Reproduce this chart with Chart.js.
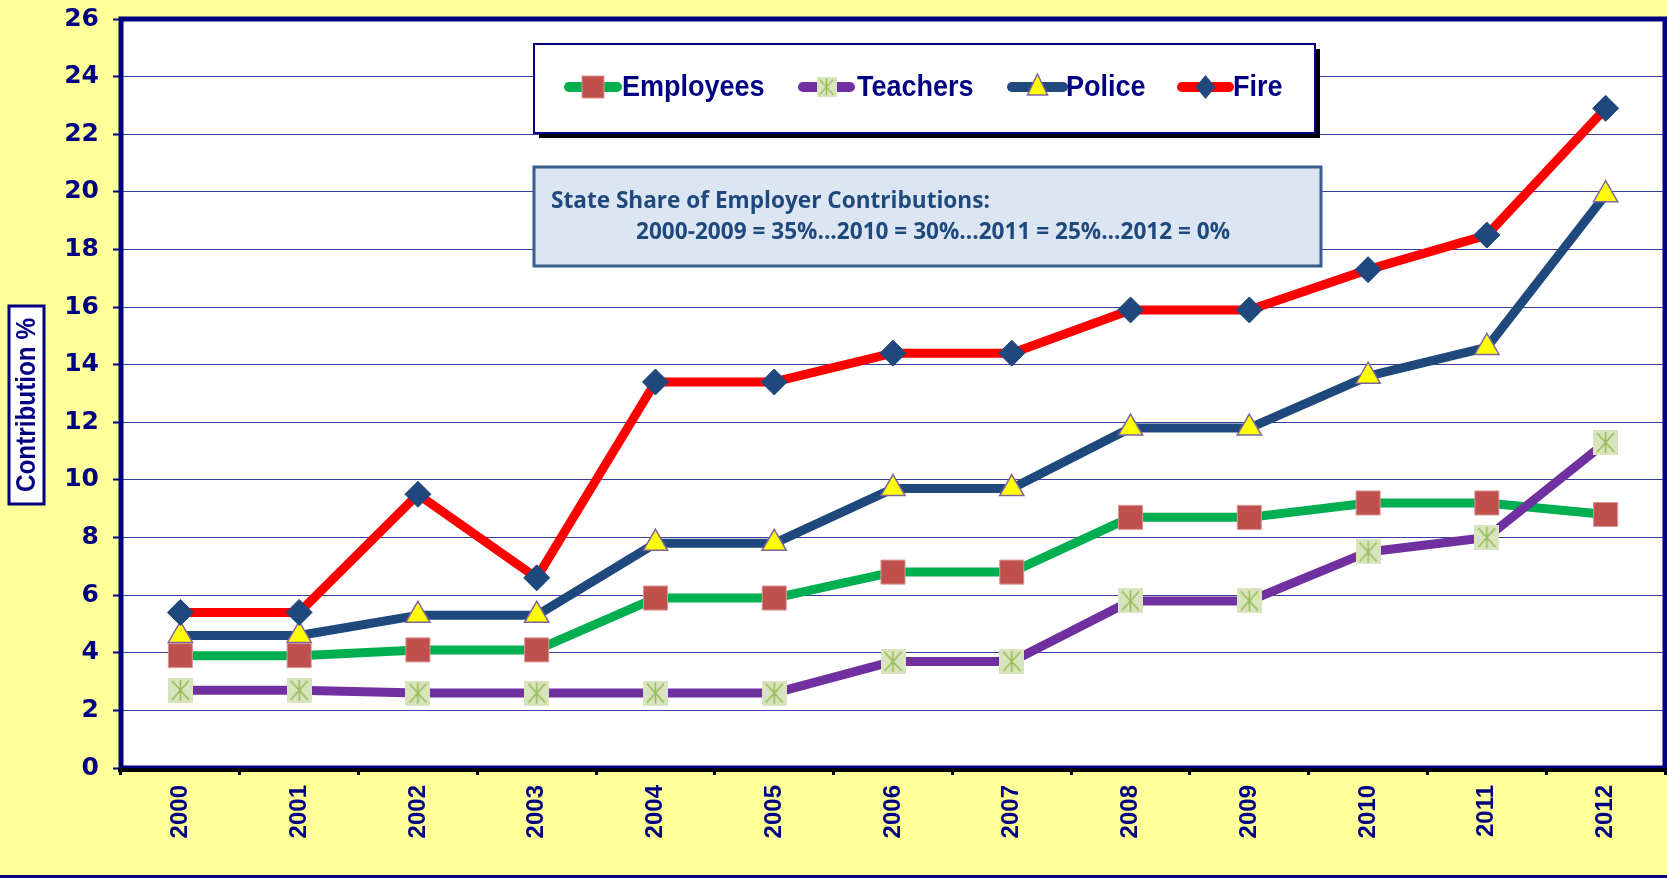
<!DOCTYPE html>
<html>
<head>
<meta charset="utf-8">
<title>Contribution %</title>
<script src="https://cdn.jsdelivr.net/npm/chart.js@4.4.0/dist/chart.umd.min.js"></script>
<style>
  html, body { margin: 0; padding: 0; background: #FFFF99; overflow: hidden; }
  #wrap { width: 1667px; height: 878px; position: relative; }
</style>
</head>
<body>
<div id="wrap"><canvas id="myChart"></canvas></div>
<script>
// values
const years = ['2000', '2001', '2002', '2003', '2004', '2005', '2006', '2007', '2008', '2009', '2010', '2011', '2012'];
const employees = [3.9, 3.9, 4.1, 4.1, 5.9, 5.9, 6.8, 6.8, 8.7, 8.7, 9.2, 9.2, 8.8];
const teachers = [2.7, 2.7, 2.6, 2.6, 2.6, 2.6, 3.7, 3.7, 5.8, 5.8, 7.5, 8.0, 11.3];
const police = [4.6, 4.6, 5.3, 5.3, 7.8, 7.8, 9.7, 9.7, 11.8, 11.8, 13.6, 14.6, 19.9];
const fire = [5.4, 5.4, 9.5, 6.6, 13.4, 13.4, 14.4, 14.4, 15.9, 15.9, 17.3, 18.5, 22.9];
const yTickLabels = [0, 2, 4, 6, 8, 10, 12, 14, 16, 18, 20, 22, 24, 26];
const seriesNames = ['Employees', 'Teachers', 'Police', 'Fire'];
const yTitle = 'Contribution %';
const noteLines = ['State Share of Employer Contributions:', '2000-2009 = 35%...2010 = 30%...2011 = 25%...2012 = 0%'];

const NAVY = '#000080';

//teachers marker: green box with an asterisk
function teacherMark() {
    const c = document.createElement('canvas');
    c.width = 25; c.height = 25;
    const g = c.getContext('2d');
    g.fillStyle = '#D7E4BD';
    g.fillRect(0, 0, 25, 25);
    g.strokeStyle = '#9BBB59';
    g.lineWidth = 1.6;
    g.beginPath();
    g.moveTo(12.5, 2); g.lineTo(12.5, 23);
    g.moveTo(4, 3); g.lineTo(21, 22);
    g.moveTo(21, 3); g.lineTo(4, 22);
    g.stroke();
    return c;
}
const tMark = teacherMark();

function drawMark(ctx, i, x, y) {
    ctx.save();
    if (i == 0) {
        ctx.fillStyle = '#C0504D';
        ctx.strokeStyle = '#D99694';
        ctx.lineWidth = 1;
        ctx.fillRect(x - 11, y - 11, 22, 22);
        ctx.strokeRect(x - 11, y - 11, 22, 22);
    } else if (i == 1) {
        ctx.drawImage(tMark, x - 10, y - 10, 20, 20);
    } else if (i == 2) {
        ctx.beginPath();
        ctx.moveTo(x, y - 13);
        ctx.lineTo(x + 10, y + 8);
        ctx.lineTo(x - 10, y + 8);
        ctx.closePath();
        ctx.fillStyle = '#FFFF00';
        ctx.fill();
        ctx.strokeStyle = '#8064A2';
        ctx.lineWidth = 1.5;
        ctx.stroke();
    } else {
        ctx.beginPath();
        ctx.moveTo(x, y - 12);
        ctx.lineTo(x + 10, y);
        ctx.lineTo(x, y + 12);
        ctx.lineTo(x - 10, y);
        ctx.closePath();
        ctx.fillStyle = '#1F497D';
        ctx.fill();
    }
    ctx.restore();
}

const decor = {
    id: 'decor',
    beforeDraw(chart) {
        const { ctx, chartArea: a } = chart;
        ctx.save();
        ctx.fillStyle = '#FFFFFF';
        ctx.fillRect(a.left, a.top, a.right - a.left, a.bottom - a.top);

        // y title box
        ctx.fillStyle = '#FFFFFF';
        ctx.fillRect(9, 306, 35, 198);
        ctx.strokeStyle = NAVY;
        ctx.lineWidth = 3;
        ctx.strokeRect(9, 306, 35, 198);
        ctx.translate(27, 405);
        ctx.rotate(-Math.PI / 2);
        ctx.scale(0.9, 1);
        ctx.fillStyle = NAVY;
        ctx.font = 'bold 27px "Liberation Sans", Arial, sans-serif';
        ctx.textAlign = 'center';
        ctx.textBaseline = 'middle';
        ctx.fillText(yTitle, 0, 1);
        ctx.restore();

        // line along the bottom of the page
        ctx.save();
        ctx.fillStyle = NAVY;
        ctx.fillRect(0, 875, chart.width, 3);
        ctx.restore();
    },
    beforeDatasetsDraw(chart) {
        const { ctx, chartArea: a } = chart;
        ctx.save();
        // plot frame
        ctx.strokeStyle = NAVY;
        ctx.lineWidth = 5;
        ctx.strokeRect(a.left, a.top, a.right - a.left, a.bottom - a.top);
        ctx.fillStyle = '#000000';
        ctx.fillRect(a.left - 3, a.bottom, a.right - a.left + 6, 4);

        // legend box
        ctx.fillStyle = '#000000';
        ctx.fillRect(539, 49, 781, 89);
        ctx.fillStyle = '#FFFFFF';
        ctx.fillRect(534, 44, 781, 89);
        ctx.strokeStyle = NAVY;
        ctx.lineWidth = 2;
        ctx.strokeRect(534, 44, 781, 89);

        const lx = [[569, 617, 622], [803, 850, 857], [1012, 1063, 1066], [1182, 1229, 1233]];
        const ly = 87;
        ctx.textBaseline = 'middle';
        ctx.textAlign = 'left';
        chart.data.datasets.forEach((ds, i) => {
            ctx.strokeStyle = ds.borderColor;
            ctx.lineWidth = 10;
            ctx.lineCap = 'round';
            ctx.beginPath();
            ctx.moveTo(lx[i][0], ly);
            ctx.lineTo(lx[i][1], ly);
            ctx.stroke();
            drawMark(ctx, i, (lx[i][0] + lx[i][1]) / 2, ly);
            ctx.save();
            ctx.translate(lx[i][2], ly + 1);
            ctx.scale(0.9, 1);
            ctx.font = 'bold 30px "Liberation Sans", Arial, sans-serif';
            ctx.fillStyle = NAVY;
            ctx.fillText(seriesNames[i], 0, 0);
            ctx.restore();
        });

        // note box
        ctx.fillStyle = '#DCE6F2';
        ctx.fillRect(534, 167, 787, 99);
        ctx.strokeStyle = '#385D8A';
        ctx.lineWidth = 3;
        ctx.strokeRect(534, 167, 787, 99);
        ctx.font = 'bold 20px "Open Sans", sans-serif';
        const w = ctx.measureText(noteLines[1]).width;
        const fs = 20 * 595 / w;
        ctx.font = 'bold ' + fs.toFixed(1) + 'px "Open Sans", sans-serif';
        ctx.fillStyle = '#1F497D';
        ctx.fillText(noteLines[0], 551, 202);
        ctx.fillText(noteLines[1], 636, 233);
        ctx.restore();
    }
};

const ctx = document.getElementById('myChart').getContext('2d');
const myChart = new Chart(ctx, {
    type: 'line',
    data: {
        labels: years,
        datasets: [
        {
            label: seriesNames[0],
            data: employees,
            borderColor: '#00B050',
            borderWidth: 9,
            pointStyle: 'rect',
            pointRadius: 17,
            pointBackgroundColor: '#C0504D',
            pointBorderColor: '#D99694',
            pointBorderWidth: 1,
            order: 4
        },
        {
            label: seriesNames[1],
            data: teachers,
            borderColor: '#7030A0',
            borderWidth: 9,
            pointStyle: tMark,
            pointRadius: 13,
            order: 3
        },
        {
            label: seriesNames[2],
            data: police,
            borderColor: '#1F497D',
            borderWidth: 9,
            pointStyle: 'triangle',
            pointRadius: 14,
            pointBackgroundColor: '#FFFF00',
            pointBorderColor: '#8064A2',
            pointBorderWidth: 1.5,
            order: 2
        },
        {
            label: seriesNames[3],
            data: fire,
            borderColor: '#FF0000',
            borderWidth: 9,
            pointStyle: 'rectRot',
            pointRadius: 13,
            pointBackgroundColor: '#1F497D',
            pointBorderColor: '#1F497D',
            pointBorderWidth: 1,
            order: 1
        }
        ]
    },
    options: {
        responsive: true,
        maintainAspectRatio: false,
        animation: false,
        elements: {
            line: { tension: 0, borderJoinStyle: 'round', borderCapStyle: 'round' }
        },
        layout: { autoPadding: false, padding: { top: 19, right: 2, bottom: 3, left: 0 } },
        plugins: {
            legend: { display: false },
            tooltip: { enabled: false }
        },
        scales: {
            x: {
                offset: true,
                grid: { offset: true, drawOnChartArea: false, drawTicks: true, tickLength: 7, tickColor: '#000000', tickWidth: 3 },
                border: { display: false },
                ticks: {
                    autoSkip: false, minRotation: 90, maxRotation: 90, padding: 10,
                    color: NAVY,
                    font: { family: '"Liberation Sans", Arial, sans-serif', size: 24, weight: 'bold' }
                },
                afterFit(s) {
                    s.height = 107;
                    s.paddingLeft = 0; s.paddingRight = 0;
                }
            },
            y: {
                min: 0,
                max: 26,
                afterBuildTicks(s) { s.ticks = yTickLabels.map(v => ({ value: v })); },
                ticks: {
                    padding: 14,
                    color: NAVY,
                    font: { family: '"DejaVu Sans", sans-serif', size: 25, weight: 'bold' }
                },
                grid: { color: '#3C3C9C', lineWidth: 1, tickLength: 8, tickColor: NAVY, tickWidth: 2 },
                border: { display: false },
                afterFit(s) {
                    s.width = 121;
                    s.paddingTop = 0; s.paddingBottom = 0;
                }
            }
        }
    },
    plugins: [decor]
});
</script>
</body>
</html>
